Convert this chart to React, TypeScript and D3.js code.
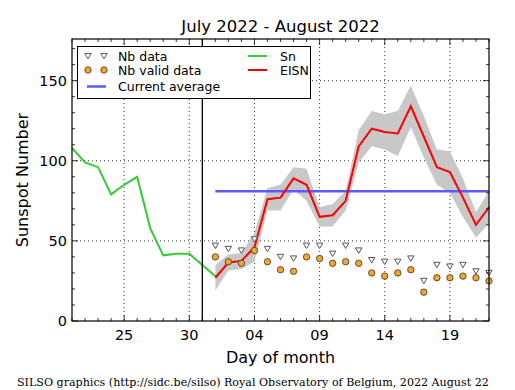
import React, { useEffect, useRef } from 'react';
import * as d3 from 'd3';

// Sn (daily, July 21 -> Aug 1)
const snStart = '2022-07-21';
const snValues = [108, 99, 96, 79, 85, 90, 58, 41, 42, 42, 35, 28];

// EISN estimate (Aug 1 -> Aug 22)
const eisnStart = '2022-08-01';
const eisnValues = [27, 36.5, 37.5, 46, 76, 77, 89, 85, 65, 66, 75, 109, 120, 118, 117, 134, 115, 96, 93, 77, 60, 71];
const eisnError = [8, 5, 5, 9, 7, 8, 7, 10, 6, 7, 6, 10, 11, 11, 14, 13, 13, 11, 13, 12, 8, 10];
const nbData = [47, 45, 44, 51, 45, 40, 39, 47, 47, 42, 47, 44, 38, 37, 37, 39, 25, 35, 34, 35, 31, 30];
const nbValid = [40, 37, 36, 44, 37, 32, 31, 40, 39, 36, 37, 36, 30, 28, 30, 32, 18, 27, 27, 28, 27, 25];
const currentAverage = 81;

const xDomain = ['2022-07-21', '2022-08-22'];
const xTickDates = ['2022-07-25', '2022-07-30', '2022-08-04', '2022-08-09', '2022-08-14', '2022-08-19'];
const xTickLabels = ['25', '30', '04', '09', '14', '19'];
const yTicks = [0, 50, 100, 150];
const yMax = 176;
const markerDate = '2022-07-31';

const parse = d3.timeParse('%Y-%m-%d');
const dayAt = (start: string, i: number) => d3.timeDay.offset(parse(start) as Date, i);

const W = 515;
const H = 390;
const M = { left: 72, right: 489, top: 39, bottom: 321 };
const FONT = 'DejaVu Sans, sans-serif';

const SunspotChart: React.FC = () => {
  const svgRef = useRef<SVGSVGElement>(null);

  useEffect(() => {
    const svg = d3.select(svgRef.current);
    svg.selectAll('*').remove();

    const x = d3.scaleTime()
      .domain(xDomain.map(d => parse(d) as Date))
      .range([M.left, M.right]);
    const y = d3.scaleLinear().domain([0, yMax]).range([M.bottom, M.top]);

    svg.append('rect').attr('width', W).attr('height', H).attr('fill', 'white');

    // grid
    const grid = svg.append('g')
      .attr('stroke', 'black')
      .attr('stroke-width', 0.8)
      .attr('stroke-dasharray', '1,3');
    xTickDates.forEach(d => {
      const px = x(parse(d) as Date);
      grid.append('line').attr('x1', px).attr('x2', px).attr('y1', M.top).attr('y2', M.bottom);
    });
    yTicks.filter(v => v > 0).forEach(v => {
      grid.append('line').attr('x1', M.left).attr('x2', M.right).attr('y1', y(v)).attr('y2', y(v));
    });

    // error band
    const eisnPts = eisnValues.map((v, i) => ({ date: dayAt(eisnStart, i), v, e: eisnError[i] }));
    const band = d3.area<typeof eisnPts[0]>()
      .x(d => x(d.date))
      .y0(d => y(d.v - d.e))
      .y1(d => y(d.v + d.e));
    svg.append('path').attr('d', band(eisnPts)).attr('fill', '#c8c8c8');

    // Sn line
    const snPts = snValues.map((v, i) => ({ date: dayAt(snStart, i), v }));
    const line = d3.line<{ date: Date; v: number }>().x(d => x(d.date)).y(d => y(d.v));
    svg.append('path').attr('d', line(snPts)).attr('fill', 'none')
      .attr('stroke', '#33cc33').attr('stroke-width', 2);

    // current average
    svg.append('line')
      .attr('x1', x(parse(eisnStart) as Date)).attr('x2', M.right)
      .attr('y1', y(currentAverage)).attr('y2', y(currentAverage))
      .attr('stroke', '#5a5aff').attr('stroke-width', 2.5);

    // EISN line
    svg.append('path').attr('d', line(eisnPts)).attr('fill', 'none')
      .attr('stroke', 'red').attr('stroke-width', 2);

    // Nb data triangles
    const tri = (cx: number, cy: number) => `M${cx - 3.2},${cy - 2.6}L${cx + 3.2},${cy - 2.6}L${cx},${cy + 2.8}Z`;
    svg.append('g').selectAll('path').data(nbData).enter().append('path')
      .attr('d', (d, i) => tri(x(dayAt(eisnStart, i)), y(d)))
      .attr('fill', 'white').attr('stroke', '#555').attr('stroke-width', 1);

    // Nb valid circles
    svg.append('g').selectAll('circle').data(nbValid).enter().append('circle')
      .attr('cx', (d, i) => x(dayAt(eisnStart, i)))
      .attr('cy', d => y(d))
      .attr('r', 3.2)
      .attr('fill', '#f5a623').attr('stroke', '#333').attr('stroke-width', 0.8);

    // vertical marker
    const mx = x(parse(markerDate) as Date);
    svg.append('line').attr('x1', mx).attr('x2', mx).attr('y1', M.top).attr('y2', M.bottom)
      .attr('stroke', 'black').attr('stroke-width', 1.3);

    // ticks (inward, all four sides)
    const ticks = svg.append('g').attr('stroke', 'black').attr('stroke-width', 0.8);
    const days = d3.timeDay.range(x.domain()[0], d3.timeDay.offset(x.domain()[1], 1));
    days.forEach(d => {
      const px = x(d);
      const major = xTickDates.some(t => (parse(t) as Date).getTime() === d.getTime());
      const len = major ? 6 : 3;
      ticks.append('line').attr('x1', px).attr('x2', px).attr('y1', M.bottom).attr('y2', M.bottom - len);
      ticks.append('line').attr('x1', px).attr('x2', px).attr('y1', M.top).attr('y2', M.top + len);
    });
    d3.range(0, yMax, 10).forEach(v => {
      const len = v % 50 === 0 ? 6 : 3;
      ticks.append('line').attr('x1', M.left).attr('x2', M.left + len).attr('y1', y(v)).attr('y2', y(v));
      ticks.append('line').attr('x1', M.right).attr('x2', M.right - len).attr('y1', y(v)).attr('y2', y(v));
    });

    // frame
    svg.append('rect')
      .attr('x', M.left).attr('y', M.top)
      .attr('width', M.right - M.left).attr('height', M.bottom - M.top)
      .attr('fill', 'none').attr('stroke', 'black').attr('stroke-width', 1.2);

    // tick labels
    xTickDates.forEach((d, i) => {
      svg.append('text')
        .attr('x', x(parse(d) as Date)).attr('y', 340)
        .attr('text-anchor', 'middle')
        .attr('font-family', FONT).attr('font-size', 14.5)
        .text(xTickLabels[i]);
    });
    yTicks.forEach(v => {
      svg.append('text')
        .attr('x', 67).attr('y', y(v) + 5)
        .attr('text-anchor', 'end')
        .attr('font-family', FONT).attr('font-size', 14.5)
        .text(v);
    });

    // titles
    svg.append('text').attr('x', (M.left + M.right) / 2).attr('y', 32)
      .attr('text-anchor', 'middle').attr('font-family', FONT).attr('font-size', 16.5)
      .text('July 2022 - August 2022');
    svg.append('text').attr('x', (M.left + M.right) / 2).attr('y', 363)
      .attr('text-anchor', 'middle').attr('font-family', FONT).attr('font-size', 16)
      .text('Day of month');
    svg.append('text')
      .attr('transform', `translate(28, ${(M.top + M.bottom) / 2}) rotate(-90)`)
      .attr('text-anchor', 'middle').attr('font-family', FONT).attr('font-size', 16)
      .text('Sunspot Number');
    svg.append('text').attr('x', 17).attr('y', 386)
      .attr('font-family', 'DejaVu Serif, serif').attr('font-size', 11.1)
      .text('SILSO graphics (http://sidc.be/silso) Royal Observatory of Belgium, 2022 August 22');

    // legend
    const lg = svg.append('g');
    lg.append('rect').attr('x', 77.5).attr('y', 46.5).attr('width', 233).attr('height', 52)
      .attr('fill', 'white').attr('stroke', 'black').attr('stroke-width', 1);
    const lt = (tx: number, ty: number, s: string) => lg.append('text')
      .attr('x', tx).attr('y', ty).attr('font-family', FONT).attr('font-size', 12.5).text(s);
    [88, 104].forEach(cx => {
      lg.append('path').attr('d', tri(cx, 56)).attr('fill', 'white').attr('stroke', '#555');
      lg.append('circle').attr('cx', cx).attr('cy', 70).attr('r', 3.2)
        .attr('fill', '#f5a623').attr('stroke', '#333').attr('stroke-width', 0.8);
    });
    lg.append('line').attr('x1', 87).attr('x2', 106).attr('y1', 86.5).attr('y2', 86.5)
      .attr('stroke', '#5a5aff').attr('stroke-width', 2.5);
    lg.append('line').attr('x1', 248).attr('x2', 267).attr('y1', 56).attr('y2', 56)
      .attr('stroke', '#33cc33').attr('stroke-width', 2);
    lg.append('line').attr('x1', 248).attr('x2', 267).attr('y1', 70).attr('y2', 70)
      .attr('stroke', 'red').attr('stroke-width', 2);
    lt(118, 60.5, 'Nb data');
    lt(118, 75, 'Nb valid data');
    lt(118, 91, 'Current average');
    lt(280, 60.5, 'Sn');
    lt(280, 75, 'EISN');
  }, []);

  return <svg ref={svgRef} width={W} height={H} style={{ position: 'absolute', left: 0, top: 0 }} />;
};

export default function App() {
  return <SunspotChart />;
}
